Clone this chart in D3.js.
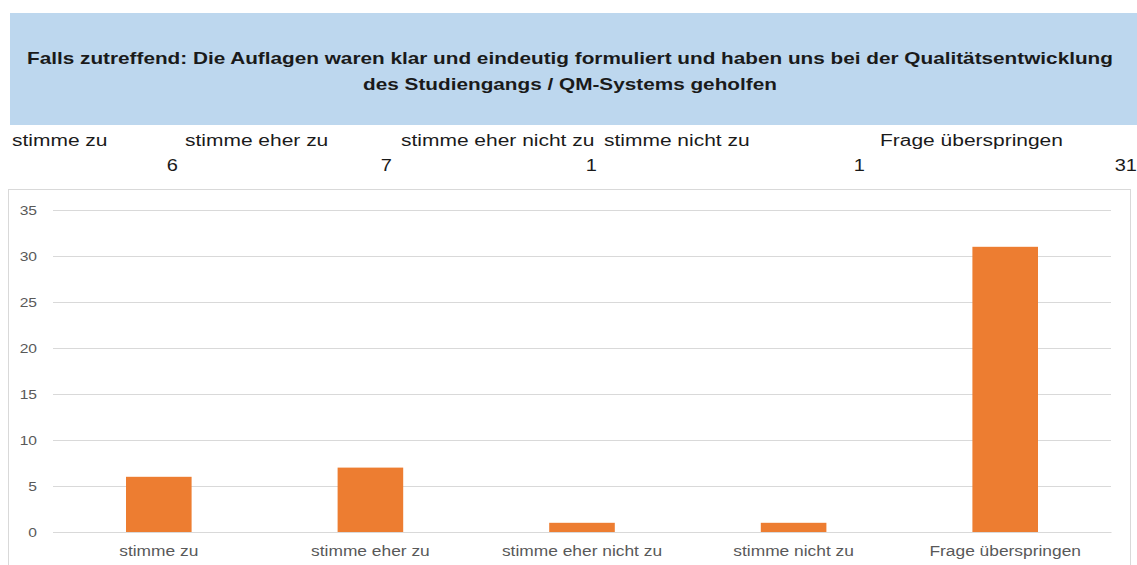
<!DOCTYPE html>
<html>
<head>
<meta charset="utf-8">
<script src="https://cdn.jsdelivr.net/npm/d3@7"></script>
<style>
  body { margin: 0; background: #fff; }
  svg { display: block; font-family: "Liberation Sans", Arial, sans-serif; }
</style>
</head>
<body>
<svg id="chart" width="1137" height="565"></svg>
<script>
const categories = ['stimme zu', 'stimme eher zu', 'stimme eher nicht zu', 'stimme nicht zu', 'Frage überspringen']
const counts = [6, 7, 1, 1, 31]
const yTicks = [0, 5, 10, 15, 20, 25, 30, 35]
const titleLines = [
    'Falls zutreffend: Die Auflagen waren klar und eindeutig formuliert und haben uns bei der Qualitätsentwicklung',
    'des Studiengangs / QM-Systems geholfen'
]
// table cells above the chart (label left edge, value right edge)
const headerLabelX = [12, 185, 401, 604, 880]
const headerValueX = [178, 392, 597, 865, 1137]

// the source picture is stretched sideways, so widen text to match
function stretch(sel, k) {
    sel.each(function () {
        const w = this.getComputedTextLength()
        d3.select(this).attr('textLength', w * k).attr('lengthAdjust', 'spacingAndGlyphs')
    })
}

const svg = d3.select('#chart')

// title band
svg.append('rect')
    .attr('x', 10).attr('y', 13)
    .attr('width', 1127).attr('height', 112)
    .attr('fill', '#bdd7ee')

svg.selectAll('text.title').data(titleLines)
    .join('text')
    .attr('class', 'title')
    .attr('x', 570)
    .attr('y', (d, i) => 64 + i * 26)
    .attr('text-anchor', 'middle')
    .attr('font-size', 17)
    .attr('font-weight', 'bold')
    .attr('fill', '#1a1a1a')
    .text(d => d)
    .call(stretch, 1.22)

// header table
svg.selectAll('text.hlabel').data(categories)
    .join('text')
    .attr('class', 'hlabel')
    .attr('x', (d, i) => headerLabelX[i])
    .attr('y', 146)
    .attr('font-size', 16)
    .attr('fill', '#1a1a1a')
    .text(d => d)
    .call(stretch, 1.31)

svg.selectAll('text.hvalue').data(counts)
    .join('text')
    .attr('class', 'hvalue')
    .attr('x', (d, i) => headerValueX[i])
    .attr('y', 171)
    .attr('text-anchor', 'end')
    .attr('font-size', 16)
    .attr('fill', '#1a1a1a')
    .text(d => d)
    .call(stretch, 1.25)

// chart frame
svg.append('rect')
    .attr('x', 8.5).attr('y', 189.5)
    .attr('width', 1122).attr('height', 400)
    .attr('fill', '#fff')
    .attr('stroke', '#d9d9d9')

const plotLeft = 53, plotRight = 1111, plotTop = 210, plotBottom = 532

const scaleX = d3.scaleBand().domain(categories).range([plotLeft, plotRight]).paddingInner(0.69).paddingOuter(0.345)
const scaleY = d3.scaleLinear().domain([0, 35]).range([plotBottom, plotTop])

const axisY = d3.axisLeft(scaleY).tickValues(yTicks).tickSize(-(plotRight - plotLeft)).tickPadding(16)
const gy = svg.append('g')
    .attr('transform', `translate(${plotLeft}, 0)`)
    .call(axisY)
gy.select('.domain').remove()
gy.selectAll('line').attr('stroke', '#d9d9d9')
gy.selectAll('text')
    .attr('font-size', 13)
    .attr('font-family', '"Liberation Sans", Arial, sans-serif')
    .attr('fill', '#595959')
    .call(stretch, 1.2)

svg.append('g').selectAll('rect').data(counts)
    .join('rect')
    .attr('x', (d, i) => scaleX(categories[i]))
    .attr('y', d => scaleY(d))
    .attr('width', scaleX.bandwidth())
    .attr('height', d => plotBottom - scaleY(d))
    .attr('fill', '#ed7d31')

const axisX = d3.axisBottom(scaleX).tickSize(0).tickPadding(14)
const gx = svg.append('g')
    .attr('transform', `translate(0, ${plotBottom})`)
    .call(axisX)
gx.select('.domain').attr('stroke', '#d9d9d9')
gx.selectAll('text')
    .attr('font-size', 14)
    .attr('font-family', '"Liberation Sans", Arial, sans-serif')
    .attr('fill', '#595959')
    .call(stretch, 1.24)
</script>
</body>
</html>
